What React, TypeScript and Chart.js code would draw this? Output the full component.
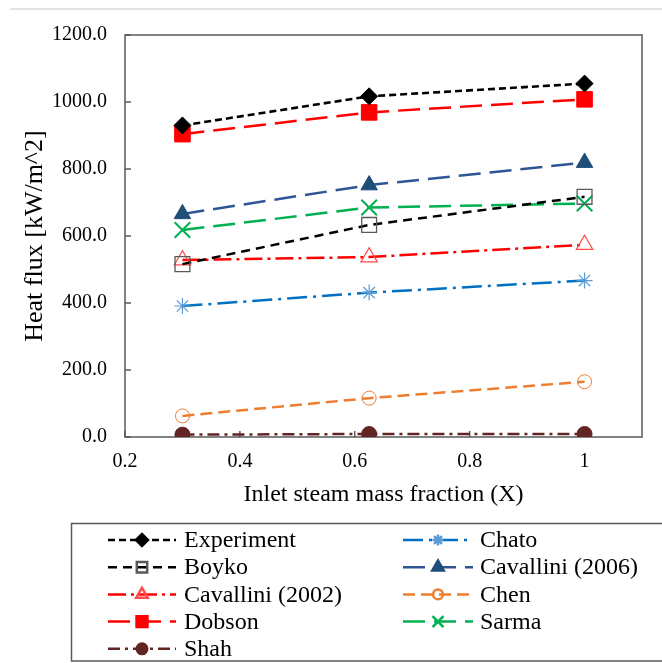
import React, { useEffect, useRef } from 'react';
import { Chart, registerables } from 'chart.js';
import { drawPoint } from 'chart.js/helpers';

Chart.register(...registerables);

// ---- data ----
const xValues = [0.3, 0.625, 1.0];
const xTicks = [0.2, 0.4, 0.6, 0.8, 1.0];
const xTickLabels = ['0.2', '0.4', '0.6', '0.8', '1'];
const yTicks = [0, 200, 400, 600, 800, 1000, 1200];

const experiment = [930, 1017, 1055];
const boyko = [516, 633, 717];
const cavallini2002 = [528, 537, 574];
const dobson = [904, 969, 1008];
const shah = [7, 9, 9];
const chato = [391, 431, 467];
const cavallini2006 = [666, 752, 819];
const chen = [63, 116, 165];
const sarma = [618, 685, 697];

const xTitle = 'Inlet steam mass fraction (X)';
const yTitle = 'Heat flux [kW/m^2]';

// ---- styles ----
const FONT = "'Liberation Serif', 'Times New Roman', serif";
const AXIS = '#595959';

type S = {
  label: string; data: number[]; color: string; dash: number[]; width: number;
  ps: string; r: number; fill: string; stroke: string; bw: number;
};

const series: S[] = [
  { label: 'Experiment', data: experiment, color: '#000000', dash: [7, 4], width: 2.6, ps: 'rectRot', r: 8.5, fill: '#000000', stroke: '#000000', bw: 1 },
  { label: 'Chato', data: chato, color: '#0070C0', dash: [20, 6, 3, 6], width: 2.5, ps: 'star', r: 8, fill: 'rgba(0,0,0,0)', stroke: '#5B9BD5', bw: 1.2 },
  { label: 'Boyko', data: boyko, color: '#000000', dash: [9, 6], width: 2.5, ps: 'rect', r: 10.5, fill: 'rgba(0,0,0,0)', stroke: '#595959', bw: 1.3 },
  { label: 'Cavallini (2006)', data: cavallini2006, color: '#2F5597', dash: [22, 9], width: 2.5, ps: 'triangle', r: 9.5, fill: '#1F4E79', stroke: '#1F4E79', bw: 1 },
  { label: 'Cavallini (2002)', data: cavallini2002, color: '#FF0000', dash: [18, 5, 3, 5], width: 2.5, ps: 'triangle', r: 9.5, fill: 'rgba(0,0,0,0)', stroke: '#FF4B4B', bw: 1.2 },
  { label: 'Chen', data: chen, color: '#ED7D31', dash: [12, 6], width: 2.5, ps: 'circle', r: 7, fill: 'rgba(0,0,0,0)', stroke: '#ED7D31', bw: 1 },
  { label: 'Dobson', data: dobson, color: '#FF0000', dash: [22, 9], width: 2.5, ps: 'rect', r: 11, fill: '#FF0000', stroke: '#FF0000', bw: 1 },
  { label: 'Sarma', data: sarma, color: '#00B050', dash: [22, 9], width: 2.5, ps: 'crossRot', r: 11, fill: 'rgba(0,0,0,0)', stroke: '#00B050', bw: 2 },
  { label: 'Shah', data: shah, color: '#632523', dash: [12, 5, 3, 5], width: 2.5, ps: 'circle', r: 7.5, fill: '#632523', stroke: '#632523', bw: 1 },
];

const decorPlugin = {
  id: 'decor',
  beforeDraw(chart: any) {
    const { ctx } = chart;
    ctx.save();
    ctx.fillStyle = '#ffffff';
    ctx.fillRect(0, 0, chart.width, chart.height);
    ctx.strokeStyle = '#e3e3e3';
    ctx.lineWidth = 2;
    ctx.beginPath();
    ctx.moveTo(10, 9);
    ctx.lineTo(chart.width, 9);
    ctx.stroke();
    ctx.restore();
  },
  beforeDatasetsDraw(chart: any) {
    const { ctx, chartArea: a, scales } = chart;
    ctx.save();
    ctx.strokeStyle = AXIS;
    ctx.lineWidth = 1.5;
    ctx.strokeRect(a.left, a.top, a.right - a.left, a.bottom - a.top);
    ctx.beginPath();
    yTicks.forEach((v) => {
      const y = scales.y.getPixelForValue(v);
      ctx.moveTo(a.left, y);
      ctx.lineTo(a.left + 6, y);
    });
    xTicks.forEach((v) => {
      const x = scales.x.getPixelForValue(v);
      ctx.moveTo(x, a.bottom);
      ctx.lineTo(x, a.bottom - 6);
    });
    ctx.stroke();
    ctx.restore();
  },
  afterDraw(chart: any) {
    const { ctx } = chart;
    ctx.save();
    ctx.strokeStyle = AXIS;
    ctx.lineWidth = 1.5;
    ctx.strokeRect(71.5, 523.5, 600, 137.5);
    const cols = [
      { x0: 108, x1: 176, mx: 142, tx: 184 },
      { x0: 403, x1: 473, mx: 438, tx: 480 },
    ];
    series.forEach((s, i) => {
      const c = cols[i % 2];
      const y = 540 + Math.floor(i / 2) * 27.2;
      ctx.strokeStyle = s.color;
      ctx.lineWidth = s.width;
      ctx.setLineDash(s.dash);
      ctx.beginPath();
      ctx.moveTo(c.x0, y);
      ctx.lineTo(c.x1, y);
      ctx.stroke();
      ctx.setLineDash([]);
      ctx.fillStyle = s.fill;
      ctx.strokeStyle = s.stroke;
      drawPoint(ctx, { pointStyle: s.ps, rotation: 0, radius: s.r * 0.7, borderWidth: s.bw }, c.mx, y);
      ctx.fillStyle = '#000000';
      ctx.font = `24px ${FONT}`;
      ctx.textBaseline = 'middle';
      ctx.textAlign = 'left';
      ctx.fillText(s.label, c.tx, y + 1);
    });
    ctx.restore();
  },
};

export default function App() {
  const ref = useRef<HTMLCanvasElement | null>(null);
  useEffect(() => {
    if (!ref.current) return;
    const chart = new Chart(ref.current, {
      type: 'line',
      data: {
        datasets: series.map((s) => ({
          label: s.label,
          data: xValues.map((x, i) => ({ x, y: s.data[i] })),
          borderColor: s.color,
          borderDash: s.dash,
          borderWidth: s.width,
          pointStyle: s.ps as any,
          pointRadius: s.r,
          pointBackgroundColor: s.fill,
          pointBorderColor: s.stroke,
          pointBorderWidth: s.bw,
          fill: false,
          tension: 0,
        })),
      },
      options: {
        animation: false,
        responsive: false,
        devicePixelRatio: 1,
        layout: { padding: { top: 35, right: 20, left: 0, bottom: 0 } },
        plugins: { legend: { display: false }, tooltip: { enabled: false } },
        scales: {
          x: {
            type: 'linear',
            min: 0.2,
            max: 1.1,
            afterBuildTicks: (s: any) => { s.ticks = xTicks.map((v) => ({ value: v })); },
            afterFit: (s: any) => { s.height = 226; },
            ticks: {
              callback: (_v: any, i: number) => xTickLabels[i],
              font: { family: FONT, size: 20 },
              color: '#000000',
              padding: 13,
              maxRotation: 0,
              autoSkip: false,
            },
            grid: { display: false, drawTicks: false },
            border: { display: false },
            title: {
              display: true,
              text: xTitle,
              font: { family: FONT, size: 24 },
              color: '#000000',
              padding: { top: 0, bottom: 153.6 },
            },
          },
          y: {
            type: 'linear',
            min: 0,
            max: 1200,
            afterBuildTicks: (s: any) => { s.ticks = yTicks.map((v) => ({ value: v })); },
            afterFit: (s: any) => { s.width = 125; },
            ticks: {
              callback: (v: any) => Number(v).toFixed(1),
              font: { family: FONT, size: 20 },
              color: '#000000',
              padding: 18,
            },
            grid: { display: false, drawTicks: false },
            border: { display: false },
            title: {
              display: true,
              text: yTitle,
              font: { family: FONT, size: 26 },
              color: '#000000',
              padding: { top: 19.4, bottom: 0 },
            },
          },
        },
      },
      plugins: [decorPlugin],
    });
    return () => chart.destroy();
  }, []);
  return (
    <div style={{ position: 'absolute', left: 0, top: 0, width: 662, height: 663 }}>
      <canvas ref={ref} width={662} height={663} style={{ display: 'block' }} />
    </div>
  );
}
